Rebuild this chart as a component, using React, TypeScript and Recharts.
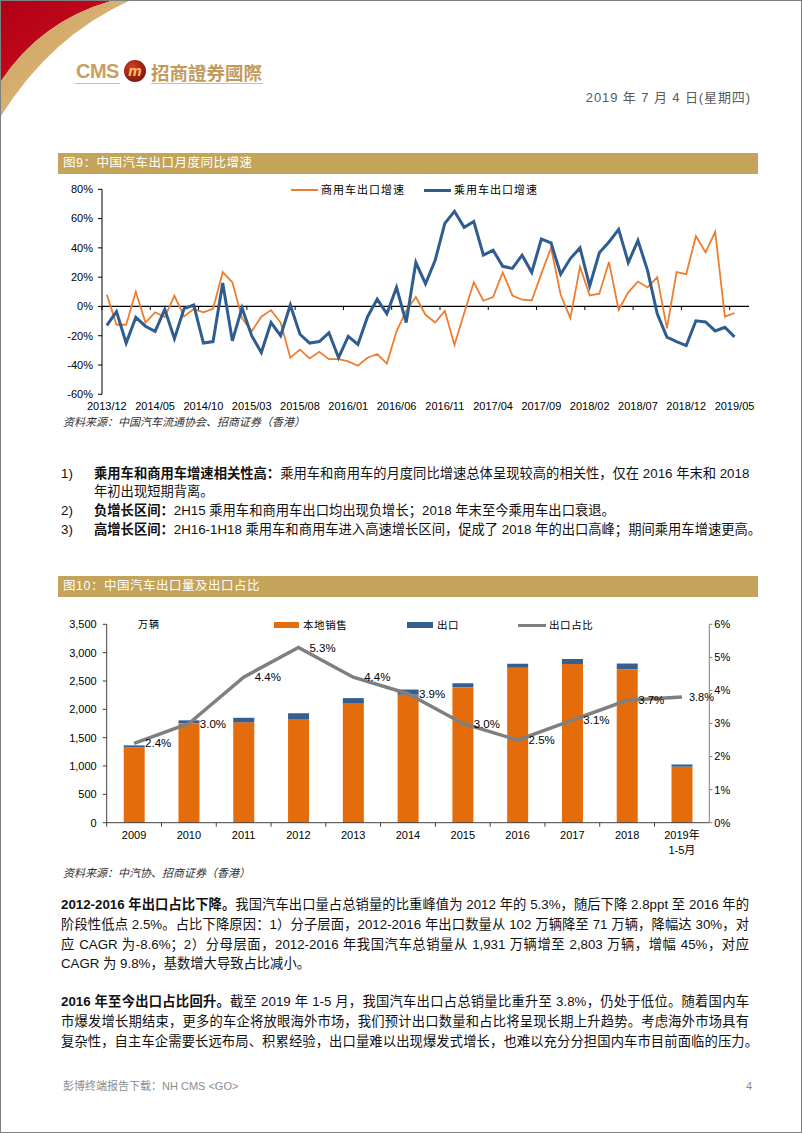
import React from 'react';
import { LineChart, Line, XAxis, YAxis, ReferenceLine, ComposedChart, Bar, LabelList } from 'recharts';

const FONT = "'Liberation Sans', Arial, 'Noto Sans CJK SC', sans-serif";
const CJK_TC = "'Noto Sans CJK TC', 'Noto Sans CJK SC', sans-serif";

// ---------- Chart 1 data (图9) ----------
const months = [
  '2013/12',
  '2014/01', '2014/02', '2014/03', '2014/04', '2014/05', '2014/06', '2014/07', '2014/08', '2014/09', '2014/10', '2014/11', '2014/12',
  '2015/01', '2015/02', '2015/03', '2015/04', '2015/05', '2015/06', '2015/07', '2015/08', '2015/09', '2015/10', '2015/11', '2015/12',
  '2016/01', '2016/02', '2016/03', '2016/04', '2016/05', '2016/06', '2016/07', '2016/08', '2016/09', '2016/10', '2016/11', '2016/12',
  '2017/01', '2017/02', '2017/03', '2017/04', '2017/05', '2017/06', '2017/07', '2017/08', '2017/09', '2017/10', '2017/11', '2017/12',
  '2018/01', '2018/02', '2018/03', '2018/04', '2018/05', '2018/06', '2018/07', '2018/08', '2018/09', '2018/10', '2018/11', '2018/12',
  '2019/01', '2019/02', '2019/03', '2019/04', '2019/05', '2019/06',
];
const monthTicks = [
  '2013/12', '2014/05', '2014/10', '2015/03', '2015/08', '2016/01', '2016/06',
  '2016/11', '2017/04', '2017/09', '2018/02', '2018/07', '2018/12', '2019/05',
];
// 商用车出口增速 (%)
const commercialGrowth = [
  8, -12.5, -12.5, 10, -11, -4, -7.3, 7.3, -6.8, -1.8, -4, -1.6, 23.5,
  16.5, -8, -17, -7, -2.5, -11, -35, -29.5, -35.5, -31, -36, -36,
  -37.5, -40.5, -35, -32.5, -39, -17, -3, 6.4, -5.7, -11, -3, -26.3,
  -4.6, 16.5, 3.9, 6.4, 23.3, 7.5, 4.6, 4.1, 22.4, 40, 8, -8,
  27, 7.5, 8.7, 30.4, -2.3, 9.6, 17, 13, 20, -15, 23.5, 22,
  48, 37, 51, -7, -4.5,
];
// 乘用车出口增速 (%)
const passengerGrowth = [
  -13, -3.5, -25, -7.5, -13.5, -17, -2, -22, -1.5, 1, -25, -24, 16,
  -23.5, -1, -20, -31.5, -11, -20, 1, -19, -25, -24, -18, -35,
  -20.5, -26, -7, 5, -5, 13, -11, 30, 15.5, 31.5, 56.7, 65,
  54, 58, 35, 38.4, 27.4, 26, 35, 23.3, 46, 43.4, 22, 32.7,
  40, 14, 36.6, 44, 52.6, 30, 45, 24.5, -5, -21, -24, -26.7,
  -9.8, -10.6, -16.7, -14.2, -20.8,
];
const growthTicks = [-60, -40, -20, 0, 20, 40, 60, 80];

// ---------- Chart 2 data (图10) ----------
const years = ['2009', '2010', '2011', '2012', '2013', '2014', '2015', '2016', '2017', '2018', '2019年1-5月'];
const localSales = [1331, 1752, 1770, 1829, 2101, 2258, 2387, 2732, 2799, 2704, 988];
const exportVolume = [33, 54, 81, 102, 97, 91, 73, 71, 89, 104, 39];
const exportShare = [2.4, 3.0, 4.4, 5.3, 4.4, 3.9, 3.0, 2.5, 3.1, 3.7, 3.8];
const volumeTicks = [0, 500, 1000, 1500, 2000, 2500, 3000, 3500];
const shareTicks = [0, 1, 2, 3, 4, 5, 6];

const ORANGE_LINE = '#EE7D2E';
const BLUE_LINE = '#2F5D8F';
const BAR_ORANGE = '#E46C0A';
const BAR_BLUE = '#365F91';
const GRAY_LINE = '#7F7F7F';
const GOLD_BAR = '#C4A35A';

const lineData = months.map((m, i) => ({ m, cv: commercialGrowth[i], pv: passengerGrowth[i] }));
const lastYear = years.length - 1;
const barData = years.map((y, i) => ({
  y,
  local: localSales[i],
  exp: exportVolume[i],
  share: exportShare[i],
  shareLbl: i < lastYear ? exportShare[i] : undefined,
  shareLblEnd: i === lastYear ? exportShare[i] : undefined,
}));

// layout
const C1_TOP = 175;
const C1_W = 802;
const C1_H = 245;
const C1_LEFT = 101;
const C1_RIGHT = 748;
const C1_PT = 188.3;
const C1_PB = 393.3;
const C1_YW = 40;
const C1_XH = 20;
const HALF_BAND1 = (C1_RIGHT - C1_LEFT) / months.length / 2;

const C2_TOP = 610;
const C2_W = 802;
const C2_H = 260;
const C2_LEFT = 105.7;
const C2_RIGHT = 708.3;
const C2_PT = 623.3;
const C2_PB = 821.7;
const C2_YW = 45;
const C2_XH = 35;
const HALF_BAND2 = (C2_RIGHT - C2_LEFT) / years.length / 2;

const pct1 = (v: any) => `${Number(v).toFixed(1)}%`;

const MonthTick = (p: any) => {
  const { x, y, payload } = p;
  return (
    <text x={x} y={y} dy={8} textAnchor="middle" fontSize={11} fill="#000" fontFamily={FONT}>
      {payload.value}
    </text>
  );
};

const ZeroTickMark = (p: any) => (
  <line x1={p.x1 - HALF_BAND1} x2={p.x2 - HALF_BAND1} y1={p.y1} y2={p.y2} stroke="#000" strokeWidth={1} />
);

const YearTick = (p: any) => {
  const { x, y, payload } = p;
  const off = typeof payload.offset === 'number' && payload.offset > 0 ? payload.offset : HALF_BAND2;
  const axisY = y - 4;
  const val = String(payload.value);
  const parts = val.split('年');
  return (
    <g>
      <line x1={x - off} x2={x - off} y1={axisY} y2={axisY + 4} stroke="#404040" strokeWidth={1} />
      {parts.length > 1 ? (
        <text x={x} y={y} textAnchor="middle" fontSize={11} fill="#000" fontFamily={FONT}>
          <tspan x={x} dy={12}>{parts[0] + '年'}</tspan>
          <tspan x={x} dy={15}>{parts[1]}</tspan>
        </text>
      ) : (
        <text x={x} y={y} dy={12} textAnchor="middle" fontSize={11} fill="#000" fontFamily={FONT}>
          {val}
        </text>
      )}
    </g>
  );
};

const abs = (s: React.CSSProperties): React.CSSProperties => ({ position: 'absolute', ...s });

const TextRow = ({ top, left, width, justify, children, size = 13.3 }: any) => (
  <div
    style={abs({
      top,
      left,
      width,
      height: 20,
      lineHeight: '20px',
      fontSize: size,
      whiteSpace: 'nowrap',
      color: '#111',
      textAlign: justify ? 'justify' : 'left',
      textAlignLast: justify ? 'justify' : 'left',
    } as React.CSSProperties)}
  >
    {children}
  </div>
);

const B = ({ children }: any) => <span style={{ fontWeight: 700 }}>{children}</span>;

const TitleBar = ({ top, text }: any) => (
  <div
    style={abs({
      top,
      left: 57,
      width: 700,
      height: 21,
      background: GOLD_BAR,
      color: '#fff',
      fontSize: 12.5,
      lineHeight: '21px',
      paddingLeft: 5,
      boxSizing: 'border-box',
      letterSpacing: 0.5,
    })}
  >
    {text}
  </div>
);

export default function App() {
  return (
    <div
      style={{
        position: 'absolute',
        left: 0,
        top: 0,
        width: 802,
        height: 1133,
        background: '#fff',
        fontFamily: FONT,
        border: '1px solid #7f7f7f',
        boxSizing: 'border-box',
        overflow: 'hidden',
      }}
    >
      {/* header swoosh */}
      <svg width={160} height={130} style={abs({ left: 0, top: 0 })}>
        <defs>
          <linearGradient id="redg" x1="0" y1="0" x2="1" y2="1">
            <stop offset="0" stopColor="#B00016" />
            <stop offset="1" stopColor="#D0101E" />
          </linearGradient>
          <linearGradient id="goldg" x1="0" y1="0" x2="1" y2="1">
            <stop offset="0" stopColor="#C99A55" />
            <stop offset="1" stopColor="#E6CB94" />
          </linearGradient>
        </defs>
        <path d="M0,0 L110,0 Q40,20 0,80 Z" fill="url(#redg)" />
        <path d="M110,0 L128,0 Q50,35 0,115 L0,80 Q40,20 110,0 Z" fill="url(#goldg)" />
      </svg>

      {/* logo */}
      <div style={abs({ left: 75, top: 57, fontSize: 20, fontWeight: 700, color: '#C9A063', lineHeight: '26px', letterSpacing: -0.5 })}>CMS</div>
      <svg width={24} height={24} style={abs({ left: 122, top: 58 })}>
        <defs>
          <radialGradient id="logog" cx="0.4" cy="0.35" r="0.7">
            <stop offset="0" stopColor="#D8412A" />
            <stop offset="1" stopColor="#7A1208" />
          </radialGradient>
        </defs>
        <circle cx={12} cy={12} r={11} fill="url(#logog)" />
        <text x={12} y={17} textAnchor="middle" fontSize={15} fontWeight={700} fontStyle="italic" fill="#F0C060" fontFamily={FONT}>m</text>
      </svg>
      <div style={abs({ left: 150, top: 58, fontSize: 18.5, fontWeight: 700, color: '#C49A5A', lineHeight: '26px', fontFamily: CJK_TC })}>招商證券國際</div>
      <div style={abs({ left: 74, top: 82, width: 45, height: 1, background: '#D8BD8A' })} />
      <div style={abs({ left: 150, top: 82, width: 112, height: 1, background: '#D8BD8A' })} />

      <div style={abs({ left: 560, width: 190, top: 89, fontSize: 13, color: '#595959', lineHeight: '16px', whiteSpace: 'nowrap', textAlign: 'right', letterSpacing: 0.9 })}>
        2019 年 7 月 4 日(星期四)
      </div>

      {/* ---------- Figure 9 ---------- */}
      <TitleBar top={152} text="图9：中国汽车出口月度同比增速" />

      <div style={abs({ left: 0, top: C1_TOP })}>
        <LineChart
          width={C1_W}
          height={C1_H}
          data={lineData}
          margin={{ top: C1_PT - C1_TOP, right: C1_W - C1_RIGHT, bottom: C1_TOP + C1_H - C1_PB - C1_XH, left: C1_LEFT - C1_YW }}
        >
          <XAxis
            dataKey="m"
            scale="band"
            interval={4}
            axisLine={false}
            tickLine={false}
            tickSize={0}
            tickMargin={8}
            height={C1_XH}
            tick={<MonthTick />}
          />
          <YAxis
            domain={[-60, 80]}
            ticks={growthTicks}
            tickFormatter={(v: number) => `${v}%`}
            width={C1_YW}
            axisLine={{ stroke: '#000', strokeWidth: 1 }}
            tickLine={{ stroke: '#000' }}
            tickSize={4}
            tickMargin={5}
            tick={{ fontSize: 11, fill: '#000', fontFamily: FONT }}
            interval={0}
          />
          <ReferenceLine y={0} stroke="#000" strokeWidth={1.2} />
          {monthTicks.map((t) => (
            <ReferenceLine
              key={t}
              segment={[{ x: t, y: 0 }, { x: t, y: -2.4 }]}
              stroke="#000"
              shape={ZeroTickMark}
              ifOverflow="visible"
            />
          ))}
          <Line type="linear" dataKey="cv" stroke={ORANGE_LINE} strokeWidth={1.8} dot={false} isAnimationActive={false} />
          <Line type="linear" dataKey="pv" stroke={BLUE_LINE} strokeWidth={3} dot={false} isAnimationActive={false} />
        </LineChart>
      </div>

      {/* legend fig 9 */}
      <div style={abs({ left: 290, top: 188, width: 27, height: 2, background: ORANGE_LINE })} />
      <div style={abs({ left: 320, top: 181, fontSize: 11, letterSpacing: 1, lineHeight: '16px', color: '#000', whiteSpace: 'nowrap' })}>商用车出口增速</div>
      <div style={abs({ left: 423, top: 187.5, width: 27, height: 3, background: BLUE_LINE })} />
      <div style={abs({ left: 453, top: 181, fontSize: 11, letterSpacing: 1, lineHeight: '16px', color: '#000', whiteSpace: 'nowrap' })}>乘用车出口增速</div>

      <div style={abs({ left: 62, top: 413, fontSize: 11, fontStyle: 'italic', color: '#333', lineHeight: '16px', whiteSpace: 'nowrap' })}>
        资料来源：中国汽车流通协会、招商证券（香港）
      </div>

      {/* list */}
      <TextRow top={463} left={60} width={30}>1)</TextRow>
      <TextRow top={463} left={93} width={655} justify>
        <B>乘用车和商用车增速相关性高：</B>乘用车和商用车的月度同比增速总体呈现较高的相关性，仅在 2016 年末和 2018
      </TextRow>
      <TextRow top={481} left={93} width={400}>年初出现短期背离。</TextRow>
      <TextRow top={500} left={60} width={30}>2)</TextRow>
      <TextRow top={500} left={93} width={655}>
        <B>负增长区间：</B>2H15 乘用车和商用车出口均出现负增长；2018 年末至今乘用车出口衰退。
      </TextRow>
      <TextRow top={519} left={60} width={30}>3)</TextRow>
      <TextRow top={519} left={93} width={664} justify>
        <B>高增长区间：</B>2H16-1H18 乘用车和商用车进入高速增长区间，促成了 2018 年的出口高峰；期间乘用车增速更高。
      </TextRow>

      {/* ---------- Figure 10 ---------- */}
      <TitleBar top={575} text="图10：中国汽车出口量及出口占比" />

      <div style={abs({ left: 0, top: C2_TOP })}>
        <ComposedChart
          width={C2_W}
          height={C2_H}
          data={barData}
          margin={{ top: C2_PT - C2_TOP, right: C2_W - C2_RIGHT - C2_YW, bottom: C2_TOP + C2_H - C2_PB - C2_XH, left: C2_LEFT - C2_YW }}
        >
          <XAxis
            dataKey="y"
            height={C2_XH}
            interval={0}
            axisLine={{ stroke: '#404040' }}
            tickLine={false}
            tickSize={0}
            tickMargin={4}
            tick={<YearTick />}
          />
          <YAxis
            yAxisId="l"
            domain={[0, 3500]}
            ticks={volumeTicks}
            interval={0}
            width={C2_YW}
            tickFormatter={(v: number) => v.toLocaleString('en-US')}
            axisLine={{ stroke: '#404040' }}
            tickLine={{ stroke: '#404040' }}
            tickSize={4}
            tickMargin={6}
            tick={{ fontSize: 11, fill: '#000', fontFamily: FONT }}
          />
          <YAxis
            yAxisId="r"
            orientation="right"
            domain={[0, 6]}
            ticks={shareTicks}
            interval={0}
            width={C2_YW}
            tickFormatter={(v: number) => `${v}%`}
            axisLine={{ stroke: '#808080' }}
            tickLine={{ stroke: '#808080' }}
            tickSize={3}
            tickMargin={2}
            tick={{ fontSize: 11, fill: '#000', fontFamily: FONT }}
          />
          <Bar yAxisId="l" dataKey="local" stackId="s" fill={BAR_ORANGE} barSize={21} isAnimationActive={false} />
          <Bar yAxisId="l" dataKey="exp" stackId="s" fill={BAR_BLUE} barSize={21} isAnimationActive={false} />
          <Line
            yAxisId="r"
            type="linear"
            dataKey="share"
            stroke={GRAY_LINE}
            strokeWidth={3.5}
            dot={false}
            isAnimationActive={false}
          >
            <LabelList
              dataKey="shareLbl"
              position="right"
              offset={11}
              formatter={pct1}
              fontSize={11.5}
              fill="#000"
              fontFamily={FONT}
            />
            <LabelList
              dataKey="shareLblEnd"
              position="right"
              offset={7}
              formatter={pct1}
              fontSize={11}
              fill="#000"
              fontFamily={FONT}
            />
          </Line>
        </ComposedChart>
      </div>

      {/* legend fig 10 */}
      <div style={abs({ left: 137, top: 616, fontSize: 10, color: '#000', lineHeight: '16px', letterSpacing: 1 })}>万辆</div>
      <div style={abs({ left: 273, top: 621, width: 25, height: 6, background: BAR_ORANGE })} />
      <div style={abs({ left: 302, top: 616, fontSize: 10.5, letterSpacing: 0.6, color: '#000', lineHeight: '16px', whiteSpace: 'nowrap' })}>本地销售</div>
      <div style={abs({ left: 406, top: 621, width: 26, height: 6, background: BAR_BLUE })} />
      <div style={abs({ left: 436, top: 616, fontSize: 10.5, letterSpacing: 0.6, color: '#000', lineHeight: '16px', whiteSpace: 'nowrap' })}>出口</div>
      <div style={abs({ left: 517, top: 622.5, width: 28, height: 3.5, background: GRAY_LINE })} />
      <div style={abs({ left: 548, top: 616, fontSize: 10.5, letterSpacing: 0.6, color: '#000', lineHeight: '16px', whiteSpace: 'nowrap' })}>出口占比</div>

      <div style={abs({ left: 62, top: 864, fontSize: 11, fontStyle: 'italic', color: '#333', lineHeight: '16px', whiteSpace: 'nowrap' })}>
        资料来源：中汽协、招商证券（香港）
      </div>

      {/* paragraphs */}
      <TextRow top={894} left={60} width={688} justify>
        <B>2012-2016 年出口占比下降。</B>我国汽车出口量占总销量的比重峰值为 2012 年的 5.3%，随后下降 2.8ppt 至 2016 年的
      </TextRow>
      <TextRow top={914} left={60} width={688} justify>
        阶段性低点 2.5%。占比下降原因：1）分子层面，2012-2016 年出口数量从 102 万辆降至 71 万辆，降幅达 30%，对
      </TextRow>
      <TextRow top={934} left={60} width={688} justify>
        应 CAGR 为-8.6%；2）分母层面，2012-2016 年我国汽车总销量从 1,931 万辆增至 2,803 万辆，增幅 45%，对应
      </TextRow>
      <TextRow top={953} left={60} width={688}>CAGR 为 9.8%，基数增大导致占比减小。</TextRow>

      <TextRow top={991} left={60} width={688} justify>
        <B>2016 年至今出口占比回升。</B>截至 2019 年 1-5 月，我国汽车出口占总销量比重升至 3.8%，仍处于低位。随着国内车
      </TextRow>
      <TextRow top={1011} left={60} width={688} justify>
        市爆发增长期结束，更多的车企将放眼海外市场，我们预计出口数量和占比将呈现长期上升趋势。考虑海外市场具有
      </TextRow>
      <TextRow top={1031} left={60} width={697} justify>
        复杂性，自主车企需要长远布局、积累经验，出口量难以出现爆发式增长，也难以充分分担国内车市目前面临的压力。
      </TextRow>

      {/* footer */}
      <div style={abs({ left: 62, top: 1077, fontSize: 11, color: '#8c8c8c', lineHeight: '16px', whiteSpace: 'nowrap' })}>
        彭博终端报告下载：NH CMS &lt;GO&gt;
      </div>
      <div style={abs({ left: 745, top: 1077, fontSize: 11, color: '#8c8c8c', lineHeight: '16px' })}>4</div>
    </div>
  );
}
